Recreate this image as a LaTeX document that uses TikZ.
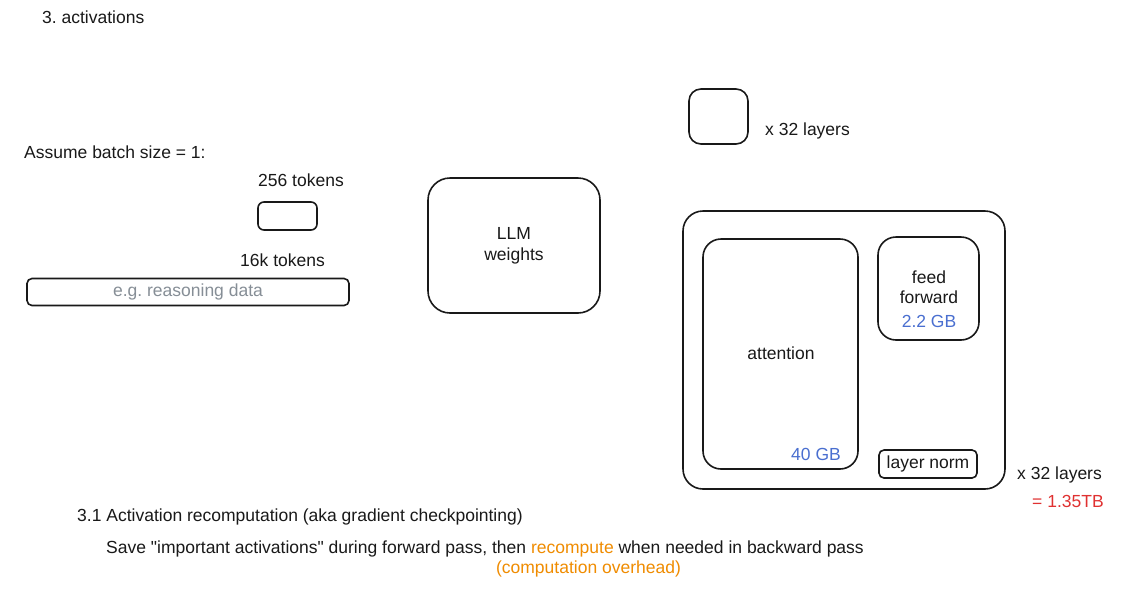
\documentclass[tikz,border=0pt]{standalone}
\usepackage{fontspec}
\setmainfont{Liberation Sans}
\newfontfamily\plainquote{Liberation Sans}[Ligatures=TeXOff]
\definecolor{exblue}{HTML}{4A6FD0}
\definecolor{exred}{HTML}{E03131}
\definecolor{exorange}{HTML}{F08C00}
\definecolor{exgray}{HTML}{868E96}
\newcommand{\sq}{{\plainquote"}}
\frenchspacing
\begin{document}
\begin{tikzpicture}[x=1pt,y=-1pt,
  box/.style={draw=black!90, line width=1.6pt, rounded corners=12pt, inner sep=0pt},
  lbl/.style={font=\fontsize{17.5}{20.5}\selectfont, inner sep=0pt, text=black!90},
  lblw/.style={lbl, anchor=west}]
\useasboundingbox[fill=white] (0,0) rectangle (1142,590);
% title
\node[lblw] (title) at (42,17) {3. activations};
% layer legend
\node[box, minimum width=59pt, minimum height=55pt] (legend) at (718.5,116.5) {};
\node[lblw] (legendtxt) at (765,131) {x 32 layers};
% tokens
\node[lblw] (assume) at (24,152) {Assume batch size = 1:};
\node[lblw] (t256) at (258,180) {256 tokens};
\node[box, rounded corners=6pt, minimum width=59pt, minimum height=28pt] (b256) at (287.5,216) {};
\node[lblw] (t16k) at (240,260) {16k tokens};
\node[box, rounded corners=5pt, minimum width=322pt, minimum height=27pt, text=exgray, font=\fontsize{17.5}{20}\selectfont] (b16k) at (188,292) {e.g. reasoning data};
% LLM weights
\node[box, rounded corners=22pt, minimum width=172pt, minimum height=135pt] (llm) at (514,245.5) {};
\node[lbl, align=center] (llmtxt) at (514,246) {LLM\\weights};
% layer
\node[box, rounded corners=20pt, minimum width=322pt, minimum height=278pt] (outer) at (844,350) {};
\node[box, rounded corners=18pt, minimum width=155pt, minimum height=230pt] (attn) at (780.5,354) {};
\node[lbl] (attntxt) at (781,353) {attention};
\node[lbl, text=exblue] (attngb) at (816,454) {40 GB};
\node[box, rounded corners=18pt, minimum width=101pt, minimum height=103pt] (ff) at (928.5,288.5) {};
\node[lbl, align=center] (fftxt) at (929,287) {feed\\forward};
\node[lbl, text=exblue] (ffgb) at (929,321) {2.2 GB};
\node[box, rounded corners=5pt, minimum width=98pt, minimum height=28pt] (ln) at (928,464) {};
\node[lbl] (lntxt) at (928,464) {layer norm};
\node[lblw] (layers) at (1017,475) {x 32 layers};
\node[lblw, text=exred] (total) at (1032,501) {= 1.35TB};
% bottom text
\node[lblw] (sec) at (77,517) {3.1 Activation recomputation (aka gradient checkpointing)};
\node[lblw] (save) at (106,549) {Save \sq important activations\sq{} during forward pass, then \textcolor{exorange}{recompute} when needed in backward pass};
\node[lbl, text=exorange] (overhead) at (588.5,569) {(computation overhead)};
\end{tikzpicture}
\end{document}
